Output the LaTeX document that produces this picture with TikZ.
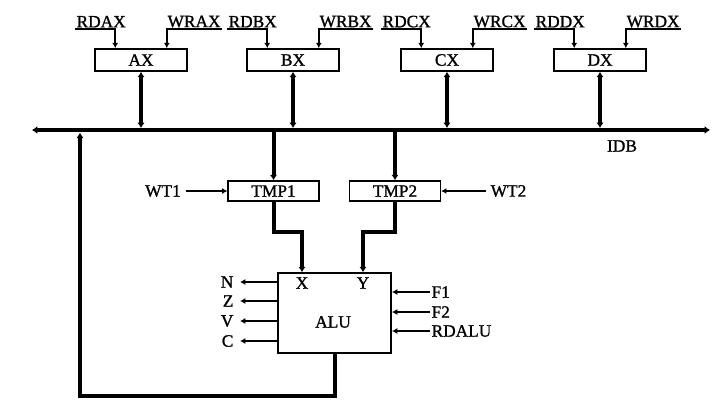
\documentclass[tikz,border=0pt]{standalone}
\usepackage{tikz}
\usepackage{fontspec}
\setmainfont{Liberation Serif}[FakeBold=1.2]
\usetikzlibrary{arrows.meta, positioning, calc}

\tikzset{
  reg/.style={draw, line width=1.2pt, minimum width=69pt, minimum height=16.5pt, inner sep=0pt},
  lbl/.style={inner sep=1pt},
  ctrl/.style={line width=1.2pt, -{Latex[length=4pt,width=4.5pt]}},
  data/.style={line width=3pt, -{Latex[length=4pt,width=5.5pt]}},
  bidir/.style={line width=3pt, {Latex[length=4pt,width=5.5pt]}-{Latex[length=4pt,width=5.5pt]}},
}

\begin{document}
\begin{tikzpicture}[x=0.75pt, y=-0.75pt, font=\fontsize{13}{15}\selectfont]
    \useasboundingbox (0,0) rectangle (723,408);

    % Internal data bus
    \coordinate (busl) at (32,130);
    \coordinate (busr) at (710,130);
    \draw[line width=3.5pt, {Latex[length=4pt,width=6pt]}-{Latex[length=4pt,width=6pt]}] (busl) -- (busr);
    \node (idb) at (622,146) {IDB};

    % Registers AX..DX
    \foreach \rg/\cx in {A/141,B/293,C/447,D/600}{
        \node[reg] (\rg X) at (\cx,60) {\rg X};
        \node[lbl, anchor=south west] (rd\rg) at (\cx-66,29) {RD\rg X};
        \node[lbl, anchor=south west] (wr\rg) at (\cx+25,29) {WR\rg X};
        \draw[ctrl] (rd\rg.south west) -| ($(\rg X.north west)+(21,0)$);
        \draw[ctrl] (wr\rg.south east) -| ($(\rg X.north east)+(-21,0)$);
        \draw[bidir, shorten >=1.5pt] (\rg X.south) -- (\rg X.south |- busl);
    }

    % Temporary registers
    \node[reg, minimum width=68pt, minimum height=15pt] (tmpa) at (273.5,191) {TMP1};
    \node[reg, minimum width=68pt, minimum height=15pt] (tmpb) at (395,191) {TMP2};
    \draw[data] (tmpa.north |- busl) -- (tmpa.north);
    \draw[data] (tmpb.north |- busl) -- (tmpb.north);
    \node (wta) at (163,191) {WT1};
    \node[anchor=west] (wtb) at (486,191) {WT2};
    \draw[ctrl] (wta) -- (tmpa);
    \draw[ctrl] (wtb) -- (tmpb);

    % ALU
    \node[reg, minimum width=85pt, minimum height=60pt] (alu) at (334.5,313) {};
    \node (alutxt) at (333,322) {ALU};
    \node (xin) at (302,283) {X};
    \node (yin) at (363,283) {Y};
    \draw[data] (tmpa.south) -- ++(0,30) -| (xin |- alu.north);
    \draw[data] (tmpb.south) -- ++(0,30) -| (yin |- alu.north);

    % Flags
    \foreach \f/\fy in {N/282,Z/301,V/321,C/341}{
        \node[lbl, anchor=east] (flag\f) at (235,\fy) {\f};
        \draw[ctrl] (alu.west |- flag\f) -- ($(flag\f.east)+(5,0)$);
    }

    % Control inputs
    \foreach \f/\fy in {F1/292,F2/312,RDALU/331}{
        \node[lbl, anchor=west] (in\f) at (430,\fy) {\f};
        \draw[ctrl] (in\f.west) -- (alu.east |- in\f);
    }

    % Result back to the bus
    \coordinate (fb) at (80,130);
    \draw[data, shorten >=2pt] (alu.south) -- ++(0,42) -| (fb);
\end{tikzpicture}
\end{document}
